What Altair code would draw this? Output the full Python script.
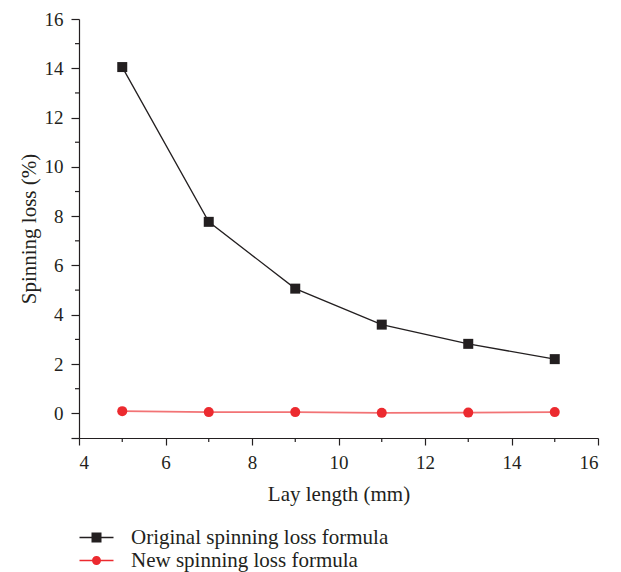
import altair as alt
import pandas as pd

# ---- data ----
lay_length = [5, 7, 9, 11, 13, 15]
original_loss = [14.05, 7.77, 5.06, 3.60, 2.82, 2.20]
new_loss = [0.09, 0.05, 0.05, 0.02, 0.03, 0.05]
series_names = ["Original spinning loss formula", "New spinning loss formula"]

x_major = [4, 6, 8, 10, 12, 14, 16]
x_minor = [5, 7, 9, 11, 13, 15]
y_major = [-1, 0, 2, 4, 6, 8, 10, 12, 14, 16]
y_minor = [1, 3, 5, 7, 9, 11, 13, 15]

rows = []
for x, y in zip(lay_length, original_loss):
    rows.append({"x": x, "y": y, "series": series_names[0]})
for x, y in zip(lay_length, new_loss):
    rows.append({"x": x, "y": y, "series": series_names[1]})
df = pd.DataFrame(rows)
df_xminor = pd.DataFrame({"v": x_minor})
df_yminor = pd.DataFrame({"v": y_minor})

W, H = 519, 419
FONT = "Liberation Serif"
INK = "#231f20"
BLACK = "#231f20"
RED = "#ec2a2f"
RED_LINE = "#f27375"

xs = alt.Scale(domain=[4, 16], nice=False, zero=False)
ys = alt.Scale(domain=[-1, 16], nice=False, zero=False)

x_axis = alt.Axis(values=x_major, title="Lay length (mm)", grid=False,
                  tickSize=7, labelPadding=8, titlePadding=11)
y_axis = alt.Axis(values=y_major, title="Spinning loss (%)", grid=False,
                  tickSize=8, labelPadding=8, titlePadding=5,
                  labelExpr="datum.value < 0 ? '' : datum.label")

base = alt.Chart(df)

lines = base.mark_line(interpolate="linear").encode(
    x=alt.X("x:Q", scale=xs, axis=x_axis),
    y=alt.Y("y:Q", scale=ys, axis=y_axis),
    color=alt.Color("series:N", scale=alt.Scale(domain=series_names, range=[BLACK, RED_LINE]), legend=None),
    strokeWidth=alt.StrokeWidth("series:N", scale=alt.Scale(domain=series_names, range=[1.3, 1.6]), legend=None),
)

points = base.mark_point(filled=True, opacity=1, size=100).encode(
    x=alt.X("x:Q", scale=xs),
    y=alt.Y("y:Q", scale=ys),
    color=alt.Color("series:N", scale=alt.Scale(domain=series_names, range=[BLACK, RED]), legend=None),
    shape=alt.Shape("series:N", scale=alt.Scale(domain=series_names, range=["square", "circle"]), legend=None),
)

sq_path = "M-3.4,-0.14H3.4V0.14H-3.4Z M-1,-1H1V1H-1Z"
ci_path = "M-3.4,-0.14H3.4V0.14H-3.4Z M-0.9,0A0.9,0.9 0 1,1 0.9,0A0.9,0.9 0 1,1 -0.9,0Z"

legend_opts = dict(title=None, orient="none", legendX=7, legendY=508,
                   symbolSize=100, symbolOpacity=1, symbolStrokeWidth=0,
                   labelFont=FONT, labelFontSize=21, labelColor=INK,
                   labelOffset=24, rowPadding=1, labelLimit=400)

legend_layer = base.mark_point(filled=True, opacity=0, size=100).encode(
    x=alt.X("x:Q", scale=xs),
    y=alt.Y("y:Q", scale=ys),
    color=alt.Color("series:N", scale=alt.Scale(domain=series_names, range=[BLACK, RED]),
                    legend=alt.Legend(**legend_opts)),
    shape=alt.Shape("series:N", scale=alt.Scale(domain=series_names, range=[sq_path, ci_path]),
                    legend=alt.Legend(**legend_opts)),
)

xminor = alt.Chart(df_xminor).mark_rule(color=INK, strokeWidth=1.2).encode(
    x=alt.X("v:Q", scale=xs),
    y=alt.value(H),
    y2=alt.value(H + 4),
)
yminor = alt.Chart(df_yminor).mark_rule(color=INK, strokeWidth=1.2).encode(
    y=alt.Y("v:Q", scale=ys),
    x=alt.value(0),
    x2=alt.value(-4),
)

chart = alt.layer(lines, points, legend_layer, xminor, yminor).resolve_scale(
    color="independent", shape="independent", strokeWidth="independent"
).properties(
    width=W, height=H,
    autosize=alt.AutoSizeParams(type="none"),
    padding={"left": 79, "top": 19, "right": 621 - 79 - W, "bottom": 572 - 19 - H},
).configure_view(stroke=None).configure_axis(
    domainColor=INK, domainWidth=1.2, tickColor=INK, tickWidth=1.2,
    labelFont=FONT, labelFontSize=19, labelColor=INK,
    titleFont=FONT, titleFontSize=21, titleColor=INK, titleFontWeight="normal",
)

chart.save("out.html", embed_options={"renderer": "svg", "actions": False})
